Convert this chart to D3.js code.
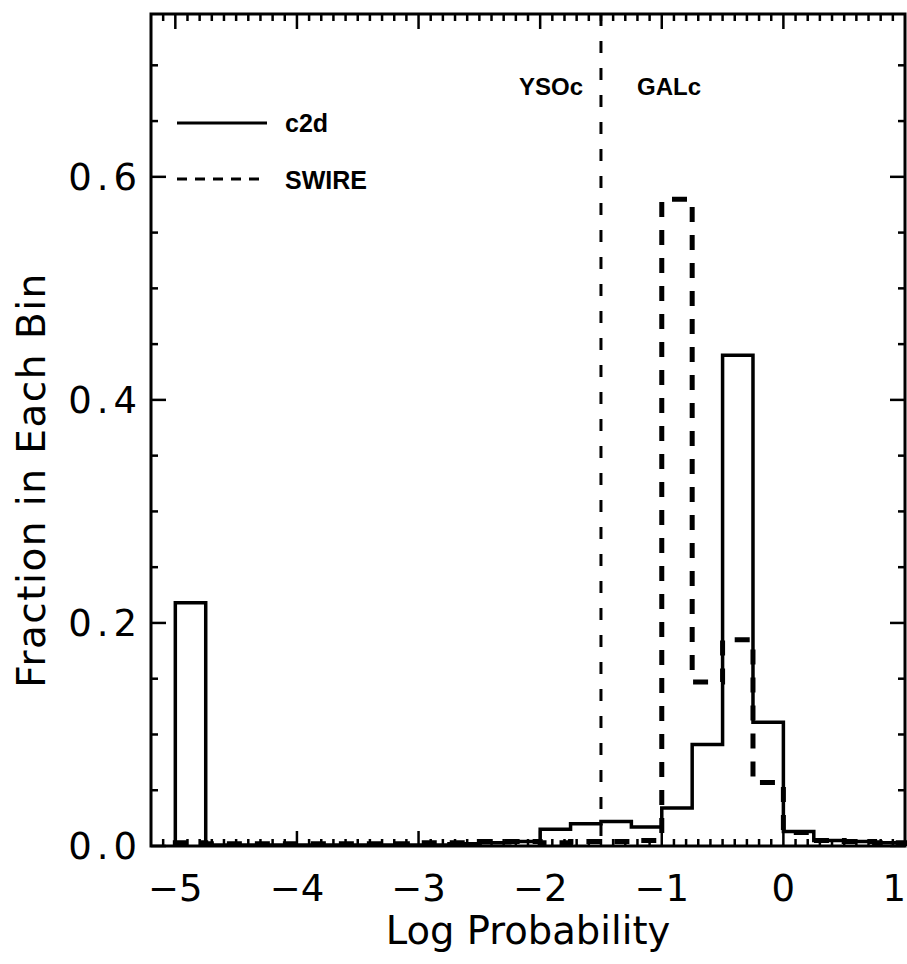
<!DOCTYPE html>
<meta charset="utf-8">
<script src="https://cdn.jsdelivr.net/npm/d3@7"></script>
<style>
body { margin: 0; background: #fff; }
text { font-family: "DejaVu Sans", sans-serif; fill: #000; }
.lbl { font-family: "Liberation Sans", Arial, sans-serif; font-weight: bold; font-size: 24px; }
</style>
<body>
<script>

// histogram bins: left edges, width 0.25
var binEdges = [-5, -4.75, -4.5, -4.25, -4, -3.75, -3.5, -3.25, -3, -2.75, -2.5, -2.25,
                -2, -1.75, -1.5, -1.25, -1, -0.75, -0.5, -0.25, 0, 0.25, 0.5, 0.75];
var binWidth = 0.25;

var c2d = [0.218, 0.001, 0.001, 0.001, 0.001, 0.001, 0.001, 0.001, 0.001, 0.002, 0.003, 0.004,
           0.015, 0.020, 0.022, 0.017, 0.034, 0.091, 0.440, 0.111, 0.013, 0.005, 0.004, 0.003];
var swire = [0.003, 0.002, 0.002, 0.002, 0.002, 0.002, 0.002, 0.002, 0.003, 0.003, 0.004, 0.004,
             0.003, 0.004, 0.004, 0.005, 0.580, 0.147, 0.185, 0.057, 0.012, 0.005, 0.004, 0.003];

var xTicks = [-5, -4, -3, -2, -1, 0, 1];
var yTicks = [0, 0.2, 0.4, 0.6];
var divider = -1.5;

var width = 907, height = 964;
var margin = {top: 14, right: 2, bottom: 118, left: 151};

var x = d3.scaleLinear().domain([-5.2, 1]).range([margin.left, width - margin.right]);
var y = d3.scaleLinear().domain([0, 0.746]).range([height - margin.bottom, margin.top]);

var svg = d3.select("body").append("svg")
    .attr("width", width)
    .attr("height", height);

var x0 = x.range()[0], x1 = x.range()[1];
var y0 = y.range()[0], y1 = y.range()[1];

// ticks (IDL style: inward, on all four sides)
var xMinor = d3.range(-51, 11).map(function(i) { return i / 10; })
    .filter(function(v) { return v > -5.2 && v < 1; });
var yMinor = d3.range(0, 16).map(function(i) { return i * 0.05; })
    .filter(function(v) { return v <= 0.746; });

function isMajor(v, list) {
  return list.some(function(t) { return Math.abs(t - v) < 1e-6; });
}

var ticks = svg.append("g").attr("stroke", "#000").attr("stroke-width", 2.5);
xMinor.forEach(function(v) {
  var len = isMajor(v, xTicks) ? 15 : 7;
  ticks.append("line").attr("x1", x(v)).attr("x2", x(v)).attr("y1", y0).attr("y2", y0 - len);
  ticks.append("line").attr("x1", x(v)).attr("x2", x(v)).attr("y1", y1).attr("y2", y1 + len);
});
yMinor.forEach(function(v) {
  var len = isMajor(v, yTicks) ? 15 : 7;
  ticks.append("line").attr("y1", y(v)).attr("y2", y(v)).attr("x1", x0).attr("x2", x0 + len);
  ticks.append("line").attr("y1", y(v)).attr("y2", y(v)).attr("x1", x1).attr("x2", x1 - len);
});

// tick labels
svg.append("g").selectAll("text")
    .data(xTicks)
    .enter().append("text")
    .attr("x", function(d) { return d === 1 ? 906 : x(d); })
    .attr("y", 901)
    .attr("text-anchor", function(d) { return d === 1 ? "end" : "middle"; })
    .style("font-size", "37px")
    .text(function(d) { return d < 0 ? "\u2212" + Math.abs(d) : d; });

svg.append("g").selectAll("text")
    .data(yTicks)
    .enter().append("text")
    .attr("x", 142)
    .attr("y", function(d) { return y(d) + 13; })
    .attr("text-anchor", "end")
    .style("font-size", "37px")
    .style("letter-spacing", "5px")
    .text(function(d) { return d3.format(".1f")(d); });

// axis titles
svg.append("text")
    .attr("x", (x0 + x1) / 2)
    .attr("y", 944)
    .attr("text-anchor", "middle")
    .style("font-size", "38.5px")
    .text("Log Probability");

svg.append("text")
    .attr("transform", "translate(45,480) rotate(-90)")
    .attr("text-anchor", "middle")
    .style("font-size", "39px")
    .style("letter-spacing", "1.5px")
    .text("Fraction in Each Bin");

// step outline for a histogram
function stepPath(vals) {
  var p = d3.path();
  p.moveTo(x(binEdges[0]), y(0));
  vals.forEach(function(v, i) {
    p.lineTo(x(binEdges[i]), y(v));
    p.lineTo(x(binEdges[i] + binWidth), y(v));
  });
  p.lineTo(x(binEdges[binEdges.length - 1] + binWidth), y(0));
  return p.toString();
}

var plot = svg.append("g");

// YSOc / GALc divider
plot.append("line")
    .attr("x1", x(divider)).attr("x2", x(divider))
    .attr("y1", y1).attr("y2", y0)
    .attr("stroke", "#000")
    .attr("stroke-width", 3)
    .attr("stroke-dasharray", "12,15");

plot.append("path")
    .attr("d", stepPath(swire))
    .attr("fill", "none")
    .attr("stroke", "#000")
    .attr("stroke-width", 5)
    .attr("stroke-dasharray", "15,13");

plot.append("path")
    .attr("d", stepPath(c2d))
    .attr("fill", "none")
    .attr("stroke", "#000")
    .attr("stroke-width", 3.5);

// frame
svg.append("rect")
    .attr("x", x0).attr("y", y1)
    .attr("width", x1 - x0).attr("height", y0 - y1)
    .attr("fill", "none")
    .attr("stroke", "#000")
    .attr("stroke-width", 3);

// labels in the plot
svg.append("text")
    .attr("class", "lbl")
    .attr("x", 583).attr("y", 95)
    .attr("text-anchor", "end")
    .text("YSOc");
svg.append("text")
    .attr("class", "lbl")
    .attr("x", 637).attr("y", 95)
    .text("GALc");

// legend
var legend = svg.append("g");
legend.append("line")
    .attr("x1", 177).attr("x2", 267).attr("y1", 123).attr("y2", 123)
    .attr("stroke", "#000").attr("stroke-width", 3);
legend.append("line")
    .attr("x1", 177).attr("x2", 267).attr("y1", 179).attr("y2", 179)
    .attr("stroke", "#000").attr("stroke-width", 3)
    .attr("stroke-dasharray", "10,8");
legend.append("text")
    .attr("class", "lbl")
    .attr("x", 285).attr("y", 132)
    .style("font-size", "25px")
    .text("c2d");
legend.append("text")
    .attr("class", "lbl")
    .attr("x", 285).attr("y", 189)
    .style("font-size", "25px")
    .text("SWIRE");

</script>
</body>
